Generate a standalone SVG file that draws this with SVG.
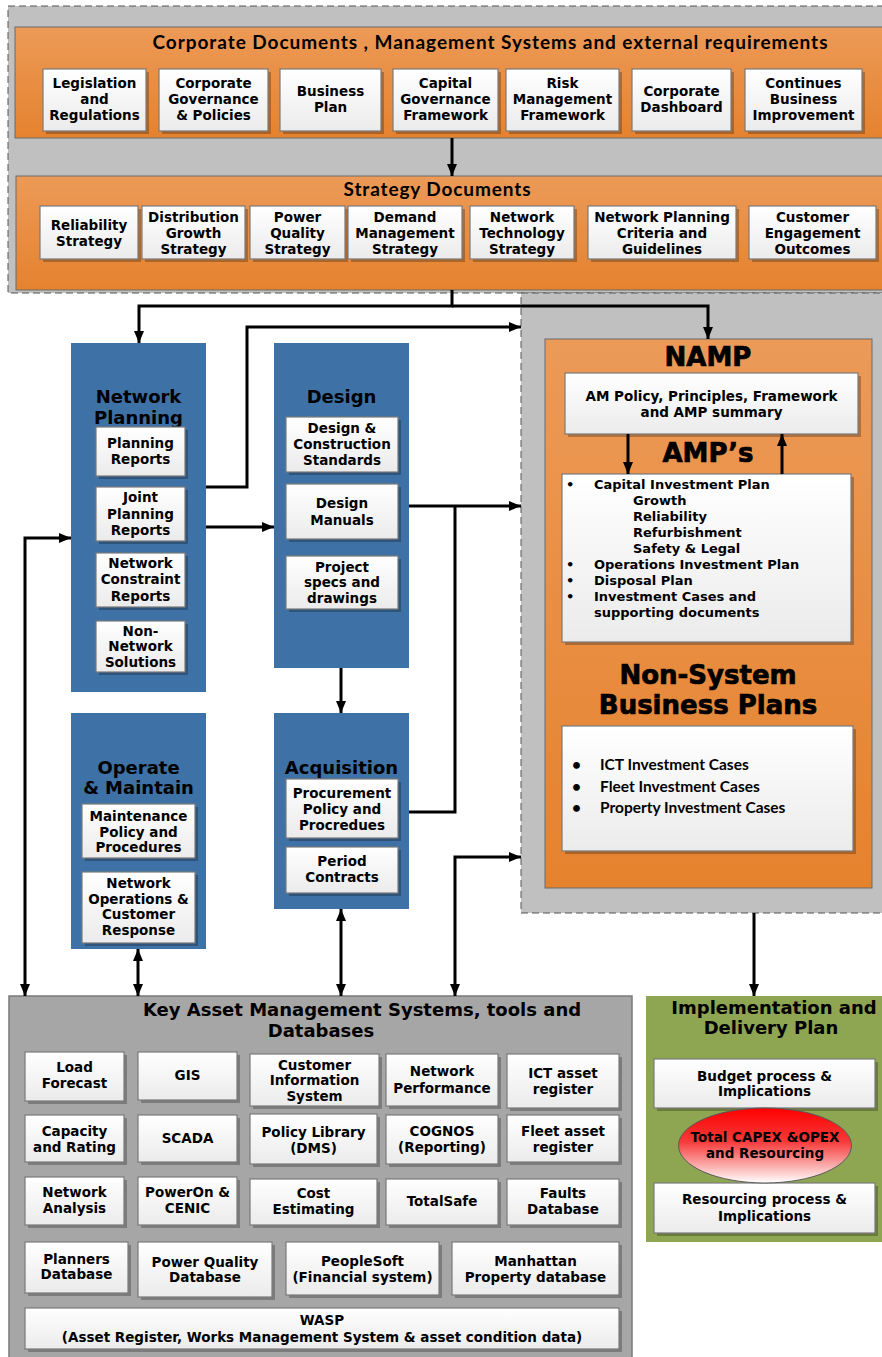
<svg xmlns="http://www.w3.org/2000/svg" width="882" height="1357" viewBox="0 0 882 1357">
<defs>
<linearGradient id="gw" x1="0" y1="0" x2="0" y2="1"><stop offset="0" stop-color="#ffffff"/><stop offset="1" stop-color="#ebebeb"/></linearGradient>
<linearGradient id="go" x1="0" y1="0" x2="0" y2="1"><stop offset="0" stop-color="#ec9a58"/><stop offset="1" stop-color="#e5822e"/></linearGradient>
<linearGradient id="gr" x1="0" y1="0" x2="0" y2="1"><stop offset="0" stop-color="#ff0000"/><stop offset="0.45" stop-color="#f73a3a"/><stop offset="1" stop-color="#ffffff"/></linearGradient>
<marker id="ah" viewBox="0 0 12 10" refX="12" refY="5" markerWidth="12" markerHeight="10" markerUnits="userSpaceOnUse" orient="auto-start-reverse"><path d="M0,0 L12,5 L0,10 z" fill="#000"/></marker>
<style>
.cont{fill:#c0c0c0;stroke:#555;stroke-width:1;stroke-dasharray:7,4}
.or{fill:url(#go);stroke:#6b6b6b;stroke-width:1}
.bl{fill:#3e71a5}
.wb{fill:url(#gw);stroke:#7a7a7a;stroke-width:1.2}
.sd{fill:#000;opacity:.25}
.t{font-family:"DejaVu Sans","Liberation Sans",sans-serif;font-weight:700;font-size:13.5px;text-anchor:middle;dominant-baseline:central;fill:#000}
.h{font-size:18px}
.hv{font-size:26px;stroke:#000;stroke-width:0.7}
.c{font-family:Lato,"Liberation Sans",sans-serif;font-weight:700}
.l{text-anchor:start;font-size:13px}
.ttl{font-size:19px}
.nb{font-size:15.5px}
.cn{fill:none;stroke:#000;stroke-width:3}
</style>
</defs>

<!-- containers -->
<g id="top-container">
<rect class="cont" x="8" y="6" width="890" height="287"/>
</g>
<g id="namp-container">
<rect class="cont" x="521" y="293" width="370" height="620"/>
</g>

<!-- Corporate Documents -->
<g id="corporate">
<rect class="or" x="15" y="27" width="880" height="111"/>
<text class="t c ttl" x="490" y="41" textLength="675">Corporate Documents , Management Systems and external requirements</text>
</g>
<g id="legislation"><rect class="sd" x="46" y="72" width="103" height="62"/><rect class="wb" x="43" y="69" width="103" height="62"/><text class="t"><tspan x="94.5" y="83">Legislation</tspan><tspan x="94.5" y="99">and</tspan><tspan x="94.5" y="115">Regulations</tspan></text></g>
<g id="corp-governance"><rect class="sd" x="162" y="72" width="109" height="62"/><rect class="wb" x="159" y="69" width="109" height="62"/><text class="t"><tspan x="213.5" y="83">Corporate</tspan><tspan x="213.5" y="99">Governance</tspan><tspan x="213.5" y="115">&amp; Policies</tspan></text></g>
<g id="business-plan"><rect class="sd" x="283" y="72" width="101" height="62"/><rect class="wb" x="280" y="69" width="101" height="62"/><text class="t"><tspan x="330.5" y="91">Business</tspan><tspan x="330.5" y="107">Plan</tspan></text></g>
<g id="capital-governance"><rect class="sd" x="396" y="72" width="105" height="62"/><rect class="wb" x="393" y="69" width="105" height="62"/><text class="t"><tspan x="445.5" y="83">Capital</tspan><tspan x="445.5" y="99">Governance</tspan><tspan x="445.5" y="115">Framework</tspan></text></g>
<g id="risk-management"><rect class="sd" x="509" y="72" width="113" height="62"/><rect class="wb" x="506" y="69" width="113" height="62"/><text class="t"><tspan x="562.5" y="83">Risk</tspan><tspan x="562.5" y="99">Management</tspan><tspan x="562.5" y="115">Framework</tspan></text></g>
<g id="corp-dashboard"><rect class="sd" x="635" y="72" width="99" height="62"/><rect class="wb" x="632" y="69" width="99" height="62"/><text class="t"><tspan x="681.5" y="91">Corporate</tspan><tspan x="681.5" y="107">Dashboard</tspan></text></g>
<g id="continues-improvement"><rect class="sd" x="748" y="72" width="117" height="62"/><rect class="wb" x="745" y="69" width="117" height="62"/><text class="t"><tspan x="803.5" y="83">Continues</tspan><tspan x="803.5" y="99">Business</tspan><tspan x="803.5" y="115">Improvement</tspan></text></g>

<!-- Strategy Documents -->
<g id="strategy">
<rect class="or" x="16" y="176" width="880" height="114"/>
<text class="t c ttl" x="437" y="188" textLength="187">Strategy Documents</text>
</g>
<g id="reliability-strategy"><rect class="sd" x="43" y="209" width="98" height="53"/><rect class="wb" x="40" y="206" width="98" height="53"/><text class="t"><tspan x="89" y="225">Reliability</tspan><tspan x="89" y="241">Strategy</tspan></text></g>
<g id="distribution-growth"><rect class="sd" x="145" y="209" width="103" height="53"/><rect class="wb" x="142" y="206" width="103" height="53"/><text class="t"><tspan x="193.5" y="217">Distribution</tspan><tspan x="193.5" y="233">Growth</tspan><tspan x="193.5" y="249">Strategy</tspan></text></g>
<g id="power-quality-strategy"><rect class="sd" x="253" y="209" width="95" height="53"/><rect class="wb" x="250" y="206" width="95" height="53"/><text class="t"><tspan x="297.5" y="217">Power</tspan><tspan x="297.5" y="233">Quality</tspan><tspan x="297.5" y="249">Strategy</tspan></text></g>
<g id="demand-management"><rect class="sd" x="351" y="209" width="114" height="53"/><rect class="wb" x="348" y="206" width="114" height="53"/><text class="t"><tspan x="405" y="217">Demand</tspan><tspan x="405" y="233">Management</tspan><tspan x="405" y="249">Strategy</tspan></text></g>
<g id="network-technology"><rect class="sd" x="473" y="209" width="104" height="53"/><rect class="wb" x="470" y="206" width="104" height="53"/><text class="t"><tspan x="522" y="217">Network</tspan><tspan x="522" y="233">Technology</tspan><tspan x="522" y="249">Strategy</tspan></text></g>
<g id="planning-criteria"><rect class="sd" x="591" y="209" width="148" height="53"/><rect class="wb" x="588" y="206" width="148" height="53"/><text class="t"><tspan x="662" y="217">Network Planning</tspan><tspan x="662" y="233">Criteria and</tspan><tspan x="662" y="249">Guidelines</tspan></text></g>
<g id="customer-engagement"><rect class="sd" x="752" y="209" width="127" height="53"/><rect class="wb" x="749" y="206" width="127" height="53"/><text class="t"><tspan x="812.5" y="217">Customer</tspan><tspan x="812.5" y="233">Engagement</tspan><tspan x="812.5" y="249">Outcomes</tspan></text></g>

<!-- Network Planning -->
<g id="network-planning">
<rect class="bl" x="71" y="343" width="135" height="349"/>
<text class="t h"><tspan x="138.5" y="396">Network</tspan><tspan x="138.5" y="417">Planning</tspan></text>
<rect class="sd" x="99" y="430" width="89" height="49"/><rect class="wb" x="96" y="427" width="89" height="49"/><text class="t"><tspan x="140.5" y="443">Planning</tspan><tspan x="140.5" y="459">Reports</tspan></text>
<rect class="sd" x="99" y="490" width="89" height="54"/><rect class="wb" x="96" y="487" width="89" height="54"/><text class="t"><tspan x="140.5" y="497">Joint</tspan><tspan x="140.5" y="514">Planning</tspan><tspan x="140.5" y="530">Reports</tspan></text>
<rect class="sd" x="99" y="556" width="89" height="54"/><rect class="wb" x="96" y="553" width="89" height="54"/><text class="t"><tspan x="140.5" y="563">Network</tspan><tspan x="140.5" y="579">Constraint</tspan><tspan x="140.5" y="596">Reports</tspan></text>
<rect class="sd" x="99" y="624" width="89" height="51"/><rect class="wb" x="96" y="621" width="89" height="51"/><text class="t"><tspan x="140.5" y="631">Non-</tspan><tspan x="140.5" y="646">Network</tspan><tspan x="140.5" y="662">Solutions</tspan></text>
</g>

<!-- Design -->
<g id="design">
<rect class="bl" x="274" y="343" width="135" height="325"/>
<text class="t h" x="341.5" y="396">Design</text>
<rect class="sd" x="289" y="420" width="112" height="55"/><rect class="wb" x="286" y="417" width="112" height="55"/><text class="t"><tspan x="342" y="428">Design &amp;</tspan><tspan x="342" y="443.5">Construction</tspan><tspan x="342" y="459.5">Standards</tspan></text>
<rect class="sd" x="289" y="487" width="112" height="55"/><rect class="wb" x="286" y="484" width="112" height="55"/><text class="t"><tspan x="342" y="503">Design</tspan><tspan x="342" y="520">Manuals</tspan></text>
<rect class="sd" x="289" y="559" width="112" height="53"/><rect class="wb" x="286" y="556" width="112" height="53"/><text class="t"><tspan x="342" y="566.5">Project</tspan><tspan x="342" y="582">specs and</tspan><tspan x="342" y="598">drawings</tspan></text>
</g>

<!-- Operate & Maintain -->
<g id="operate-maintain">
<rect class="bl" x="71" y="713" width="135" height="236"/>
<text class="t h"><tspan x="138.5" y="767">Operate</tspan><tspan x="138.5" y="787">&amp; Maintain</tspan></text>
<rect class="sd" x="85" y="807" width="113" height="54"/><rect class="wb" x="82" y="804" width="113" height="54"/><text class="t"><tspan x="138.5" y="816">Maintenance</tspan><tspan x="138.5" y="832">Policy and</tspan><tspan x="138.5" y="847">Procedures</tspan></text>
<rect class="sd" x="85" y="875" width="113" height="71"/><rect class="wb" x="82" y="872" width="113" height="71"/><text class="t"><tspan x="138.5" y="883">Network</tspan><tspan x="138.5" y="899">Operations &amp;</tspan><tspan x="138.5" y="914">Customer</tspan><tspan x="138.5" y="930">Response</tspan></text>
</g>

<!-- Acquisition -->
<g id="acquisition">
<rect class="bl" x="274" y="713" width="135" height="196"/>
<text class="t h" x="341.5" y="767">Acquisition</text>
<rect class="sd" x="289" y="782" width="112" height="59"/><rect class="wb" x="286" y="779" width="112" height="59"/><text class="t"><tspan x="342" y="793">Procurement</tspan><tspan x="342" y="809">Policy and</tspan><tspan x="342" y="825">Procredues</tspan></text>
<rect class="sd" x="289" y="850" width="112" height="46"/><rect class="wb" x="286" y="847" width="112" height="46"/><text class="t"><tspan x="342" y="861">Period</tspan><tspan x="342" y="877">Contracts</tspan></text>
</g>

<!-- NAMP -->
<g id="namp">
<rect class="or" x="545" y="339" width="327" height="549"/>
<text class="t hv" x="708" y="357">NAMP</text>
<rect class="sd" x="568" y="376" width="293" height="61"/><rect class="wb" x="565" y="373" width="293" height="61"/>
<text class="t"><tspan x="711.5" y="396">AM Policy, Principles, Framework</tspan><tspan x="711.5" y="412">and AMP summary</tspan></text>
<text class="t hv" x="708" y="453">AMP’s</text>
<rect class="sd" x="565" y="477" width="289" height="168"/><rect class="wb" x="562" y="474" width="289" height="168"/>
<text class="t l"><tspan x="566" y="484">•</tspan><tspan x="594" y="484">Capital Investment Plan</tspan><tspan x="633" y="500">Growth</tspan><tspan x="633" y="516">Reliability</tspan><tspan x="633" y="532">Refurbishment</tspan><tspan x="633" y="548">Safety &amp; Legal</tspan><tspan x="566" y="564">•</tspan><tspan x="594" y="564">Operations Investment Plan</tspan><tspan x="566" y="580">•</tspan><tspan x="594" y="580">Disposal Plan</tspan><tspan x="566" y="596">•</tspan><tspan x="594" y="596">Investment Cases and</tspan><tspan x="594" y="612">supporting documents</tspan></text>
<text class="t hv"><tspan x="708" y="675">Non-System</tspan><tspan x="708" y="705">Business Plans</tspan></text>
<rect class="sd" x="565" y="729" width="291" height="125"/><rect class="wb" x="562" y="726" width="291" height="125"/>
<text class="t c l nb"><tspan x="572" y="764">•</tspan><tspan x="600" y="764">ICT Investment Cases</tspan><tspan x="572" y="786">•</tspan><tspan x="600" y="786">Fleet Investment Cases</tspan><tspan x="572" y="807">•</tspan><tspan x="600" y="807">Property Investment Cases</tspan></text>
</g>

<!-- Key Asset Management Systems -->
<g id="kams">
<rect x="9" y="996" width="623" height="370" fill="#a6a6a6" stroke="#7a7a7a" stroke-width="1.5"/>
<text class="t h"><tspan x="362" y="1009">Key Asset Management Systems, tools and</tspan><tspan x="321" y="1030">Databases</tspan></text>
</g>
<g id="load-forecast"><rect class="sd" x="28" y="1055" width="99" height="49"/><rect class="wb" x="25" y="1052" width="99" height="49"/><text class="t"><tspan x="74.5" y="1067">Load</tspan><tspan x="74.5" y="1083">Forecast</tspan></text></g>
<g id="gis"><rect class="sd" x="141" y="1055" width="99" height="48"/><rect class="wb" x="138" y="1052" width="99" height="48"/><text class="t" x="187.5" y="1075">GIS</text></g>
<g id="cis"><rect class="sd" x="253" y="1057" width="129" height="52"/><rect class="wb" x="250" y="1054" width="129" height="52"/><text class="t"><tspan x="314.5" y="1065">Customer</tspan><tspan x="314.5" y="1080">Information</tspan><tspan x="314.5" y="1096">System</tspan></text></g>
<g id="network-performance"><rect class="sd" x="389" y="1057" width="112" height="52"/><rect class="wb" x="386" y="1054" width="112" height="52"/><text class="t"><tspan x="442" y="1071">Network</tspan><tspan x="442" y="1088">Performance</tspan></text></g>
<g id="ict-register"><rect class="sd" x="510" y="1057" width="112" height="54"/><rect class="wb" x="507" y="1054" width="112" height="54"/><text class="t"><tspan x="563" y="1073">ICT asset</tspan><tspan x="563" y="1089">register</tspan></text></g>
<g id="capacity-rating"><rect class="sd" x="28" y="1118" width="99" height="47"/><rect class="wb" x="25" y="1115" width="99" height="47"/><text class="t"><tspan x="74.5" y="1131">Capacity</tspan><tspan x="74.5" y="1147">and Rating</tspan></text></g>
<g id="scada"><rect class="sd" x="141" y="1118" width="99" height="47"/><rect class="wb" x="138" y="1115" width="99" height="47"/><text class="t" x="187.5" y="1138">SCADA</text></g>
<g id="policy-library"><rect class="sd" x="253" y="1117" width="127" height="50"/><rect class="wb" x="250" y="1114" width="127" height="50"/><text class="t"><tspan x="313.5" y="1132">Policy Library</tspan><tspan x="313.5" y="1148">(DMS)</tspan></text></g>
<g id="cognos"><rect class="sd" x="389" y="1118" width="112" height="49"/><rect class="wb" x="386" y="1115" width="112" height="49"/><text class="t"><tspan x="442" y="1131">COGNOS</tspan><tspan x="442" y="1147">(Reporting)</tspan></text></g>
<g id="fleet-register"><rect class="sd" x="510" y="1118" width="112" height="47"/><rect class="wb" x="507" y="1115" width="112" height="47"/><text class="t"><tspan x="563" y="1131">Fleet asset</tspan><tspan x="563" y="1147">register</tspan></text></g>
<g id="network-analysis"><rect class="sd" x="28" y="1180" width="99" height="48"/><rect class="wb" x="25" y="1177" width="99" height="48"/><text class="t"><tspan x="74.5" y="1192">Network</tspan><tspan x="74.5" y="1208">Analysis</tspan></text></g>
<g id="poweron"><rect class="sd" x="141" y="1180" width="99" height="48"/><rect class="wb" x="138" y="1177" width="99" height="48"/><text class="t"><tspan x="187.5" y="1192">PowerOn &amp;</tspan><tspan x="187.5" y="1208">CENIC</tspan></text></g>
<g id="cost-estimating"><rect class="sd" x="253" y="1182" width="127" height="46"/><rect class="wb" x="250" y="1179" width="127" height="46"/><text class="t"><tspan x="313.5" y="1193">Cost</tspan><tspan x="313.5" y="1209">Estimating</tspan></text></g>
<g id="totalsafe"><rect class="sd" x="389" y="1182" width="112" height="46"/><rect class="wb" x="386" y="1179" width="112" height="46"/><text class="t" x="442" y="1201">TotalSafe</text></g>
<g id="faults-database"><rect class="sd" x="510" y="1182" width="112" height="46"/><rect class="wb" x="507" y="1179" width="112" height="46"/><text class="t"><tspan x="563" y="1193">Faults</tspan><tspan x="563" y="1209">Database</tspan></text></g>
<g id="planners-database"><rect class="sd" x="28" y="1245" width="103" height="51"/><rect class="wb" x="25" y="1242" width="103" height="51"/><text class="t"><tspan x="76.5" y="1259">Planners</tspan><tspan x="76.5" y="1274">Database</tspan></text></g>
<g id="pq-database"><rect class="sd" x="141" y="1245" width="134" height="55"/><rect class="wb" x="138" y="1242" width="134" height="55"/><text class="t"><tspan x="205" y="1262">Power Quality</tspan><tspan x="205" y="1277">Database</tspan></text></g>
<g id="peoplesoft"><rect class="sd" x="289" y="1245" width="153" height="53"/><rect class="wb" x="286" y="1242" width="153" height="53"/><text class="t"><tspan x="362.5" y="1261">PeopleSoft</tspan><tspan x="362.5" y="1277">(Financial system)</tspan></text></g>
<g id="manhattan"><rect class="sd" x="455" y="1245" width="167" height="53"/><rect class="wb" x="452" y="1242" width="167" height="53"/><text class="t"><tspan x="535.5" y="1261">Manhattan</tspan><tspan x="535.5" y="1277">Property database</tspan></text></g>
<g id="wasp"><rect class="sd" x="28" y="1311" width="594" height="41"/><rect class="wb" x="25" y="1308" width="594" height="41"/><text class="t"><tspan x="322" y="1320">WASP</tspan><tspan x="322" y="1337">(Asset Register, Works Management System &amp; asset condition data)</tspan></text></g>

<!-- Implementation and Delivery Plan -->
<g id="implementation">
<rect x="646" y="996" width="250" height="246" fill="#8ea552"/>
<text class="t h"><tspan x="774" y="1007">Implementation and</tspan><tspan x="771" y="1027">Delivery Plan</tspan></text>
<rect class="sd" x="657" y="1062" width="221" height="49"/><rect class="wb" x="654" y="1059" width="221" height="49"/><text class="t"><tspan x="764.5" y="1076">Budget process &amp;</tspan><tspan x="764.5" y="1091">Implications</tspan></text>
<rect class="sd" x="657" y="1186" width="221" height="50"/><rect class="wb" x="654" y="1183" width="221" height="50"/><text class="t"><tspan x="764.5" y="1199">Resourcing process &amp;</tspan><tspan x="764.5" y="1216">Implications</tspan></text>
<ellipse cx="765" cy="1145.5" rx="86.5" ry="37.5" fill="url(#gr)" stroke="#5a5a5a" stroke-width="1"/>
<text class="t"><tspan x="765" y="1137">Total CAPEX &amp;OPEX</tspan><tspan x="765" y="1153">and Resourcing</tspan></text>
</g>

<!-- connectors -->
<g id="connectors">
<path class="cn" d="M452,138 V176" marker-end="url(#ah)"/>
<path class="cn" d="M452,290 V306 H139 V343" marker-end="url(#ah)"/>
<path class="cn" d="M452,306 H708 V339" marker-end="url(#ah)"/>
<path class="cn" d="M206,487 H247 V327 H521" marker-end="url(#ah)"/>
<path class="cn" d="M206,527 H274" marker-end="url(#ah)"/>
<path class="cn" d="M409,506 H521" marker-end="url(#ah)"/>
<path class="cn" d="M409,812 H455 V506"/>
<path class="cn" d="M455,996 V857 H521" marker-start="url(#ah)" marker-end="url(#ah)"/>
<path class="cn" d="M71,538 H25 V996" marker-start="url(#ah)" marker-end="url(#ah)"/>
<path class="cn" d="M138,949 V996" marker-start="url(#ah)" marker-end="url(#ah)"/>
<path class="cn" d="M341,909 V996" marker-start="url(#ah)" marker-end="url(#ah)"/>
<path class="cn" d="M341,668 V713" marker-end="url(#ah)"/>
<path class="cn" d="M628,434 V474" marker-end="url(#ah)"/>
<path class="cn" d="M782,474 V434" marker-end="url(#ah)"/>
<path class="cn" d="M754,913 V996" marker-end="url(#ah)"/>
</g>
</svg>
